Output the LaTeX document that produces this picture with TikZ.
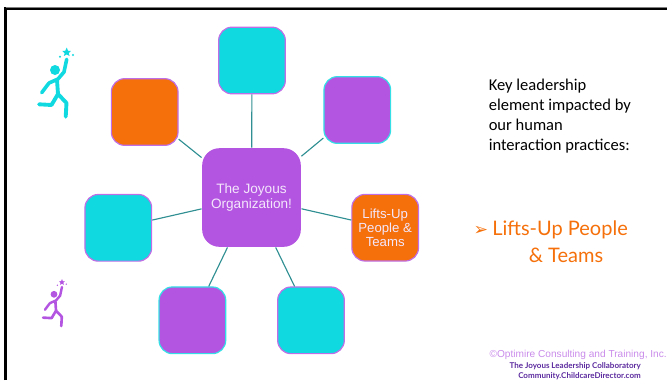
\documentclass[tikz,border=0pt]{standalone}
\usepackage{fontspec}
\setmainfont{Liberation Sans}
\newfontfamily\keyfont{Carlito}
\newfontfamily\liftfont{Lato}
\newfontfamily\markfont{DejaVu Sans}
\definecolor{jcyan}{HTML}{10DAE0}
\definecolor{jpurple}{HTML}{B455E2}
\definecolor{jorange}{HTML}{F5700A}
\definecolor{jedge}{HTML}{2F8F92}
\definecolor{jtext}{HTML}{F3E6FB}
\definecolor{jfoot}{HTML}{5B2A9E}
\definecolor{jcopy}{HTML}{C98BEA}
\tikzset{
  petal/.style={rounded corners=10pt, minimum size=50pt, inner sep=0pt, line width=0.9pt, align=center, text=jtext,
    font=\fontsize{9.9pt}{10.8pt}\selectfont},
  petalc/.style={petal, fill=jcyan, draw=jpurple!85},
  petalp/.style={petal, fill=jpurple, draw=jcyan!85},
  petalo/.style={petal, fill=jorange, draw=jpurple!85},
  spoke/.style={draw=jedge, line width=0.85pt},
}
\newcommand{\jumper}[4]{%
\begin{scope}[shift={(#1,#2)}, scale=#3]
\fill[#4] (0,0) circle (5);
\fill[#4] (11.7,-22.5) -- (13,-19.3) -- (16,-19) -- (13.7,-16.8) -- (14.6,-14) -- (11.7,-15.5) -- (8.8,-14) -- (9.7,-16.8) -- (7.4,-19) -- (10.4,-19.3) -- cycle;
\fill[#4] (5,-13.3) circle (1.2);
\fill[#4] (18,-15) circle (1.2);
\draw[#4, line width=#3*2.9pt, line cap=round, line join=round] (2,10) -- (3,24) (3,24) -- (-3.5,35) -- (-16,34.3) (3,24) -- (11.5,33) -- (10.7,46.7);
\draw[#4, line width=#3*2.7pt, line cap=round, line join=round] (-6,13) -- (-13.3,22.7) (-6,13) -- (3,9) -- (9,2) -- (11.7,-10.7);
\end{scope}}
\begin{document}
\begin{tikzpicture}[x=0.75pt, y=-0.75pt]
\useasboundingbox (0,0) rectangle (667,380);
% frame
\draw[black, line width=2pt] (5.5,380) -- (5.5,8.8) -- (667,8.8);
\draw[gray, line width=0.8pt] (5.5,7.2) -- (667,7.2);
% spokes first, boxes named below
\node[petalp, minimum size=74pt, rounded corners=13pt, draw=none, font=\fontsize{10.2pt}{11pt}\selectfont] (hub) at (251.5,197.5) {The Joyous\\Organization!};
\node[petalc] (top) at (252,60.5) {};
\node[petalp] (upright) at (357.3,110) {};
\node[petalo] (lifts) at (385.2,227.7) {Lifts-Up\\People \&\\Teams};
\node[petalc] (lowright) at (311,320.3) {};
\node[petalp] (lowleft) at (192.4,320.3) {};
\node[petalc] (left) at (118.3,227.8) {};
\node[petalo] (upleft) at (144.7,112) {};
\draw[spoke] (hub) -- (top);
\draw[spoke] (hub) -- (upright);
\draw[spoke] (hub) -- (lifts);
\draw[spoke] (hub) -- (lowright);
\draw[spoke] (hub) -- (lowleft);
\draw[spoke] (hub) -- (left);
\draw[spoke] (hub) -- (upleft);
% figures
\jumper{55}{70}{1}{jcyan}
\jumper{54}{294.3}{0.68}{jpurple}
% right side text
\node[anchor=north west, inner sep=0pt, align=left, font=\keyfont\fontsize{12.4pt}{15pt}\selectfont] (key) at (488.5,79) {Key leadership\\element impacted by\\our human\\interaction practices:};
\node[inner sep=0pt, text=jorange, font=\markfont\fontsize{13pt}{13pt}\selectfont] (bullet) at (481,230.5) {➢};
\node[anchor=west, inner sep=0pt, text=jorange, font=\liftfont\fontsize{15pt}{15pt}\selectfont] (liftsa) at (492,229.5) {Lifts-Up People};
\node[inner sep=0pt, text=jorange, font=\liftfont\fontsize{15pt}{15pt}\selectfont] (liftsb) at (566,255) {\& Teams};
% footer
\node[anchor=east, inner sep=0pt, text=jcopy, font=\fontsize{7.6pt}{8pt}\selectfont] (copy) at (667,355) {©Optimire Consulting and Training, Inc.};
\node[anchor=east, inner sep=0pt, text=jfoot, font=\liftfont\bfseries\fontsize{6pt}{6pt}\selectfont] (collab) at (641,366.5) {The Joyous Leadership Collaboratory};
\node[anchor=east, inner sep=0pt, text=jfoot, font=\liftfont\bfseries\fontsize{6pt}{6pt}\selectfont] (site) at (641,376) {Community.ChildcareDirector.com};
\end{tikzpicture}
\end{document}
